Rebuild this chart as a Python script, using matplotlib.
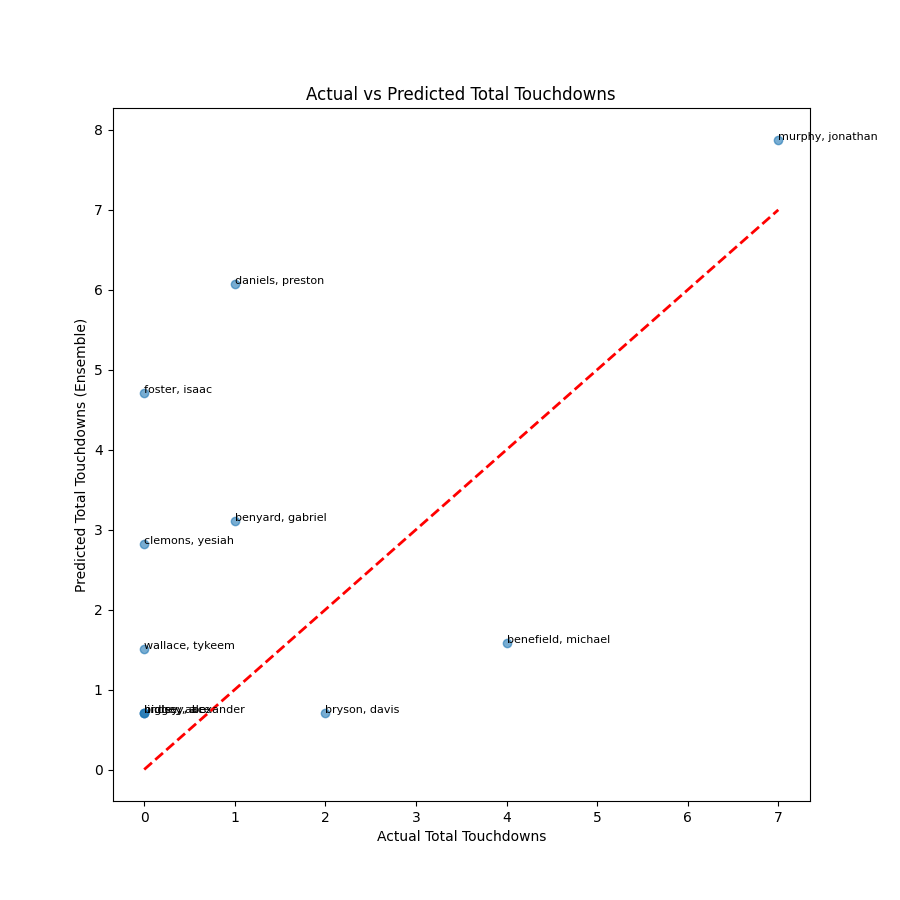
import matplotlib
matplotlib.use('Agg')
import matplotlib.pyplot as plt

names = ['murphy, jonathan', 'daniels, preston', 'foster, isaac', 'benyard, gabriel',
         'clemons, yesiah', 'wallace, tykeem', 'benefield, michael', 'bryson, davis',
         'biggey, alexander', 'hidley, abe', 'lindsey, ace']
actual = [7, 1, 0, 1, 0, 0, 4, 2, 0, 0, 0]
predicted = [7.88, 6.07, 4.71, 3.11, 2.82, 1.51, 1.58, 0.71, 0.71, 0.71, 0.71]

fig, ax = plt.subplots(figsize=(9, 9), dpi=100)
ax.scatter(actual, predicted, alpha=0.6)
lo, hi = min(actual), max(actual)
ax.plot([lo, hi], [lo, hi], 'r--', lw=2)
# the three zero/0.71 players overlap in the original too
for n, x, y in zip(names, actual, predicted):
    ax.text(x, y, n, fontsize=8)

ax.set_xlabel('Actual Total Touchdowns')
ax.set_ylabel('Predicted Total Touchdowns (Ensemble)')
ax.set_title('Actual vs Predicted Total Touchdowns')
fig.savefig('out.png')
